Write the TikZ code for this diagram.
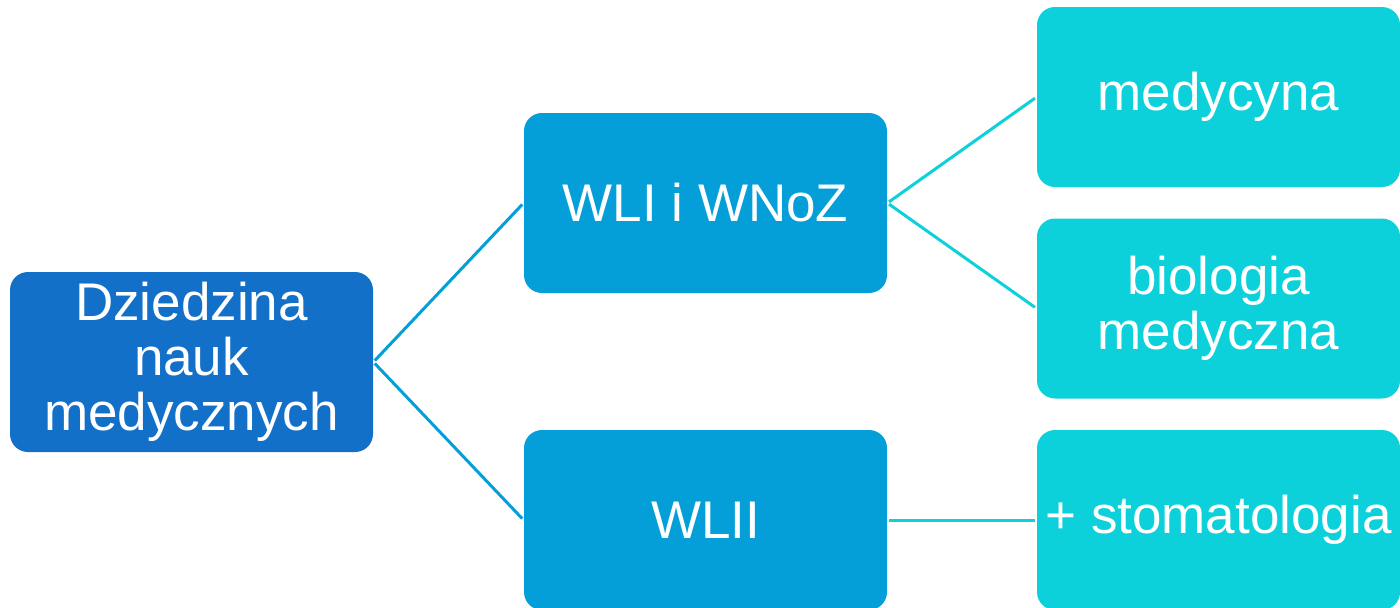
\documentclass[tikz,border=0pt]{standalone}
\usepackage{fontspec}
\setmainfont{Liberation Sans}
\definecolor{rootblue}{HTML}{1270C8}
\definecolor{midblue}{HTML}{049FD9}
\definecolor{leafcyan}{HTML}{0DD1DA}
\begin{document}
\begin{tikzpicture}[x=0.5pt,y=-0.5pt,
    box_node/.style={rectangle,rounded corners=9pt,minimum width=181.5pt,minimum height=90pt,inner sep=2pt,align=center,text=white,font=\fontsize{26.5pt}{27.5pt}\selectfont},
    root_node/.style={box_node,fill=rootblue},
    mid_node/.style={box_node,fill=midblue},
    leaf_node/.style={box_node,fill=leafcyan},
    mid_edge/.style={draw=midblue,line width=1.5pt,shorten <=1pt,shorten >=1pt},
    leaf_edge/.style={draw=leafcyan,line width=1.5pt,shorten <=1pt,shorten >=1pt}]
    \useasboundingbox (0,0) rectangle (1400,607);
    \node[root_node] (root) at (191.5, 362) {Dziedzina\\nauk\\medycznych};
    \node[mid_node] (wli) at (705.5, 203) {WLI i WNoZ};
    \node[mid_node] (wlii) at (705.5, 520) {WLII};
    \node[leaf_node] (med) at (1218.5, 97) {medycyna};
    \node[leaf_node] (bio) at (1218.5, 308.5) {biologia\\medyczna};
    \node[leaf_node] (stoma) at (1218.5, 520) {+ stomatologia};
    \draw[mid_edge] (root.east) -- (wli.west);
    \draw[mid_edge] (root.east) -- (wlii.west);
    \draw[leaf_edge] (wli.east) -- (med.west);
    \draw[leaf_edge] (wli.east) -- (bio.west);
    \draw[leaf_edge] (wlii.east) -- (stoma.west);
\end{tikzpicture}
\end{document}
